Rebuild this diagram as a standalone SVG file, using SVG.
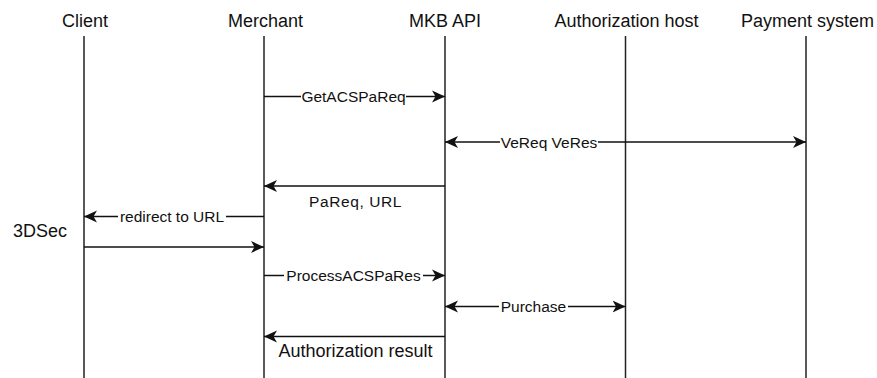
<svg xmlns="http://www.w3.org/2000/svg" width="877" height="378" viewBox="0 0 877 378">
  <defs>
    <marker id="arr" viewBox="0 0 13 13" refX="13" refY="6.5" markerWidth="13" markerHeight="13" markerUnits="userSpaceOnUse" orient="auto-start-reverse">
      <path d="M0,0.5 L13,6.5 L0,12.5 L3.5,6.5 Z" fill="#111"/>
    </marker>
  </defs>
  <style>
    .life { stroke: #222; stroke-width: 1.5; fill: none; }
    .hdr { font-family: "Liberation Sans", Arial, sans-serif; font-size: 18px; fill: #111; text-anchor: middle; }
    .msg { stroke: #111; stroke-width: 1.5; fill: none; }
    .lbl { font-family: "Liberation Sans", Arial, sans-serif; font-size: 15.5px; fill: #111; }
    .big { font-family: "Liberation Sans", Arial, sans-serif; font-size: 18px; fill: #111; }
    .bg { fill: #fff; }
  </style>
  <rect width="877" height="378" fill="#fff"/>

  <g id="client">
    <text class="hdr" x="85" y="27">Client</text>
    <line class="life" x1="84" y1="36" x2="84" y2="378"/>
  </g>
  <g id="merchant">
    <text class="hdr" x="265.5" y="27">Merchant</text>
    <line class="life" x1="264" y1="36" x2="264" y2="378"/>
  </g>
  <g id="mkb-api">
    <text class="hdr" x="445" y="27">MKB API</text>
    <line class="life" x1="445" y1="36" x2="445" y2="378"/>
  </g>
  <g id="authorization-host">
    <text class="hdr" x="626.5" y="27">Authorization host</text>
    <line class="life" x1="625.5" y1="36" x2="625.5" y2="378"/>
  </g>
  <g id="payment-system">
    <text class="hdr" x="807.5" y="27">Payment system</text>
    <line class="life" x1="806" y1="36" x2="806" y2="378"/>
  </g>

  <g id="connectors">
    <g id="m1">
      <line class="msg" x1="264" y1="96.5" x2="445" y2="96.5" marker-end="url(#arr)"/>
      <rect class="bg" x="301" y="88" width="105" height="16"/>
      <text class="lbl" x="353.5" y="102" text-anchor="middle">GetACSPaReq</text>
    </g>
    <g id="m2">
      <line class="msg" x1="445" y1="142" x2="806" y2="142" marker-start="url(#arr)" marker-end="url(#arr)"/>
      <rect class="bg" x="500" y="134" width="98" height="16"/>
      <text class="lbl" x="549" y="147.5" text-anchor="middle">VeReq VeRes</text>
    </g>
    <g id="m3">
      <line class="msg" x1="445" y1="186" x2="264" y2="186" marker-end="url(#arr)"/>
      <text class="lbl" x="355.5" y="207" text-anchor="middle" letter-spacing="0.6">PaReq, URL</text>
    </g>
    <g id="m4">
      <line class="msg" x1="264" y1="216.5" x2="84" y2="216.5" marker-end="url(#arr)"/>
      <rect class="bg" x="118" y="208" width="108" height="16"/>
      <text class="lbl" x="172" y="222" text-anchor="middle">redirect to URL</text>
    </g>
    <text class="big" x="40" y="237" text-anchor="middle">3DSec</text>
    <g id="m5">
      <line class="msg" x1="84" y1="247" x2="264" y2="247" marker-end="url(#arr)"/>
    </g>
    <g id="m6">
      <line class="msg" x1="264" y1="275.5" x2="445" y2="275.5" marker-end="url(#arr)"/>
      <rect class="bg" x="284" y="267" width="139" height="16"/>
      <text class="lbl" x="353.5" y="281" text-anchor="middle">ProcessACSPaRes</text>
    </g>
    <g id="m7">
      <line class="msg" x1="445" y1="306.5" x2="625.5" y2="306.5" marker-start="url(#arr)" marker-end="url(#arr)"/>
      <rect class="bg" x="499" y="298" width="69" height="16"/>
      <text class="lbl" x="533.5" y="312" text-anchor="middle">Purchase</text>
    </g>
    <g id="m8">
      <line class="msg" x1="445" y1="336.5" x2="264" y2="336.5" marker-end="url(#arr)"/>
      <text class="big" x="355.5" y="357" text-anchor="middle">Authorization result</text>
    </g>
  </g>
</svg>
